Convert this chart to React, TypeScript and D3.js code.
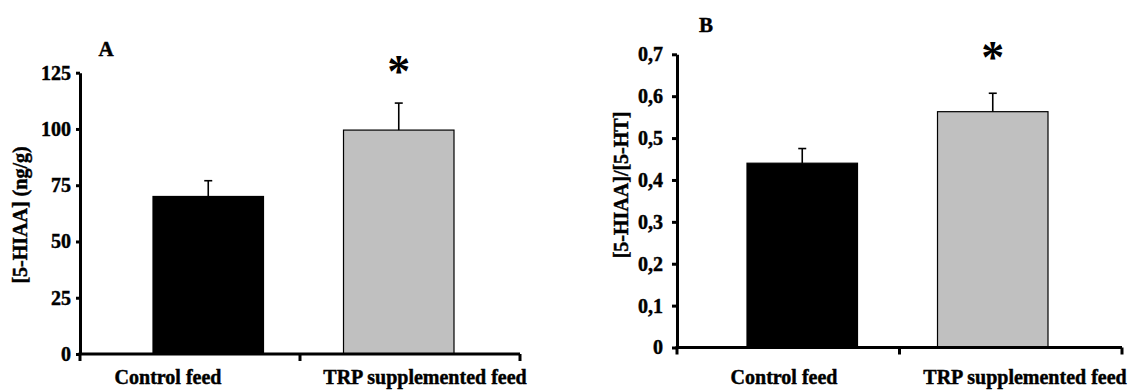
import { useEffect, useRef } from 'react';
import * as d3 from 'd3';

const categories = ['Control feed', 'TRP supplemented feed'];
const barColors = ['#000000', '#c0c0c0'];

// panel A: [5-HIAA] (ng/g)
const hiaaMeans = [70, 99.5];
const hiaaErrors = [7, 12];
const hiaaTicks = [0, 25, 50, 75, 100, 125];

// panel B: [5-HIAA]/[5-HT]
const ratioMeans = [0.44, 0.563];
const ratioErrors = [0.035, 0.044];
const ratioTicks = [0, 0.1, 0.2, 0.3, 0.4, 0.5, 0.6, 0.7];

const significant = [false, true];

const FONT = '"Liberation Serif", "Times New Roman", serif';

// bold serif text, slightly heavier like the scanned figure
const styleText = (sel, size) => sel
  .attr('font-family', FONT)
  .attr('font-weight', 'bold')
  .attr('font-size', size)
  .attr('fill', '#000')
  .attr('stroke', '#000')
  .attr('stroke-width', 0.45);

export default function App() {
  const svgRef = useRef(null);

  useEffect(() => {
    const svg = d3.select(svgRef.current);
    svg.selectAll('*').remove();

    const drawPanel = (opts) => {
      const { means, errors, ticks, yMax, yTop, yBottom, axisLeft, axisRight,
        barRange, labelRange, letter, letterPos, title, titleX, titleY,
        fmt, tickSize, tickPad } = opts;

      const y = d3.scaleLinear().domain([0, yMax]).range([yBottom, yTop]);
      const xAxisScale = d3.scaleBand().domain(categories).range([axisLeft, axisRight]);
      const xBars = d3.scaleBand().domain(categories).range(barRange).paddingInner(0.42);
      const xLabels = d3.scalePoint().domain(categories).range(labelRange);

      const g = svg.append('g');

      // bars
      g.selectAll('.bar')
        .data(categories)
        .enter().append('rect')
        .attr('x', d => xBars(d))
        .attr('y', (d, i) => y(means[i]))
        .attr('width', xBars.bandwidth())
        .attr('height', (d, i) => y(0) - y(means[i]))
        .attr('fill', (d, i) => barColors[i])
        .attr('stroke', '#000')
        .attr('stroke-width', 1.2);

      // error bars (upper only)
      const cx = d => xBars(d) + xBars.bandwidth() / 2;
      g.selectAll('.err')
        .data(categories)
        .enter().append('line')
        .attr('x1', cx).attr('x2', cx)
        .attr('y1', (d, i) => y(means[i]))
        .attr('y2', (d, i) => y(means[i] + errors[i]))
        .attr('stroke', '#000')
        .attr('stroke-width', 1.6);
      g.selectAll('.cap')
        .data(categories)
        .enter().append('line')
        .attr('x1', d => cx(d) - 4).attr('x2', d => cx(d) + 4)
        .attr('y1', (d, i) => y(means[i] + errors[i]))
        .attr('y2', (d, i) => y(means[i] + errors[i]))
        .attr('stroke', '#000')
        .attr('stroke-width', 1.6);

      // significance asterisk
      g.selectAll('.star')
        .data(categories.filter((d, i) => significant[i]))
        .enter().append('text')
        .attr('x', cx)
        .attr('y', d => {
          const i = categories.indexOf(d);
          return y(means[i] + errors[i]) - opts.starGap;
        })
        .attr('text-anchor', 'middle')
        .attr('font-family', FONT)
        .attr('font-weight', 'bold')
        .attr('font-size', 46)
        .text('*');

      // y axis
      const yAxis = g.append('g')
        .attr('transform', `translate(${axisLeft},0)`)
        .call(d3.axisLeft(y).tickValues(ticks).tickFormat(fmt)
          .tickSize(tickSize).tickSizeOuter(0).tickPadding(tickPad));
      yAxis.select('.domain').attr('stroke-width', 3);
      yAxis.selectAll('.tick line').attr('stroke-width', 3);
      styleText(yAxis.selectAll('.tick text'), 20);

      // x axis line with ticks at band boundaries
      const base = y(0);
      g.append('line')
        .attr('x1', axisLeft - 1.5).attr('x2', axisRight)
        .attr('y1', base).attr('y2', base)
        .attr('stroke', '#000').attr('stroke-width', 3);
      const bounds = categories.map(c => xAxisScale(c))
        .concat([xAxisScale(categories[categories.length - 1]) + xAxisScale.bandwidth()]);
      g.selectAll('.xt')
        .data(bounds)
        .enter().append('line')
        .attr('x1', d => d).attr('x2', d => d)
        .attr('y1', base).attr('y2', base + 7)
        .attr('stroke', '#000').attr('stroke-width', 3);

      // category labels
      styleText(g.selectAll('.lab')
        .data(categories)
        .enter().append('text')
        .attr('x', d => xLabels(d))
        .attr('y', 384)
        .attr('text-anchor', 'middle')
        .text(d => d), 20);

      // panel letter
      styleText(g.append('text')
        .attr('x', letterPos[0]).attr('y', letterPos[1])
        .attr('text-anchor', 'middle')
        .text(letter), 21);

      // y title
      styleText(g.append('text')
        .attr('transform', `translate(${titleX},${titleY}) rotate(-90)`)
        .attr('text-anchor', 'middle')
        .text(title), 20);
    };

    drawPanel({
      means: hiaaMeans, errors: hiaaErrors, ticks: hiaaTicks, yMax: 125,
      yTop: 72.7, yBottom: 354, axisLeft: 80, axisRight: 520,
      barRange: [153, 454], labelRange: [168, 425],
      letter: 'A', letterPos: [106, 56],
      title: '[5-HIAA] (ng/g)', titleX: 27, titleY: 215,
      fmt: d => String(d), tickSize: 4, tickPad: 5, starGap: 16,
    });

    drawPanel({
      means: ratioMeans, errors: ratioErrors, ticks: ratioTicks, yMax: 0.7,
      yTop: 54.3, yBottom: 347.5, axisLeft: 677, axisRight: 1122,
      barRange: [747, 1048], labelRange: [784, 1025],
      letter: 'B', letterPos: [706, 32],
      title: '[5-HIAA]/[5-HT]', titleX: 628, titleY: 185,
      fmt: d => (d === 0 ? '0' : d3.format('.1f')(d).replace('.', ',')),
      tickSize: 5, tickPad: 9, starGap: 20,
    });
  }, []);

  return (
    <svg ref={svgRef} width="1135" height="390"
      style={{ position: 'absolute', left: 0, top: 0, background: '#fff' }} />
  );
}
